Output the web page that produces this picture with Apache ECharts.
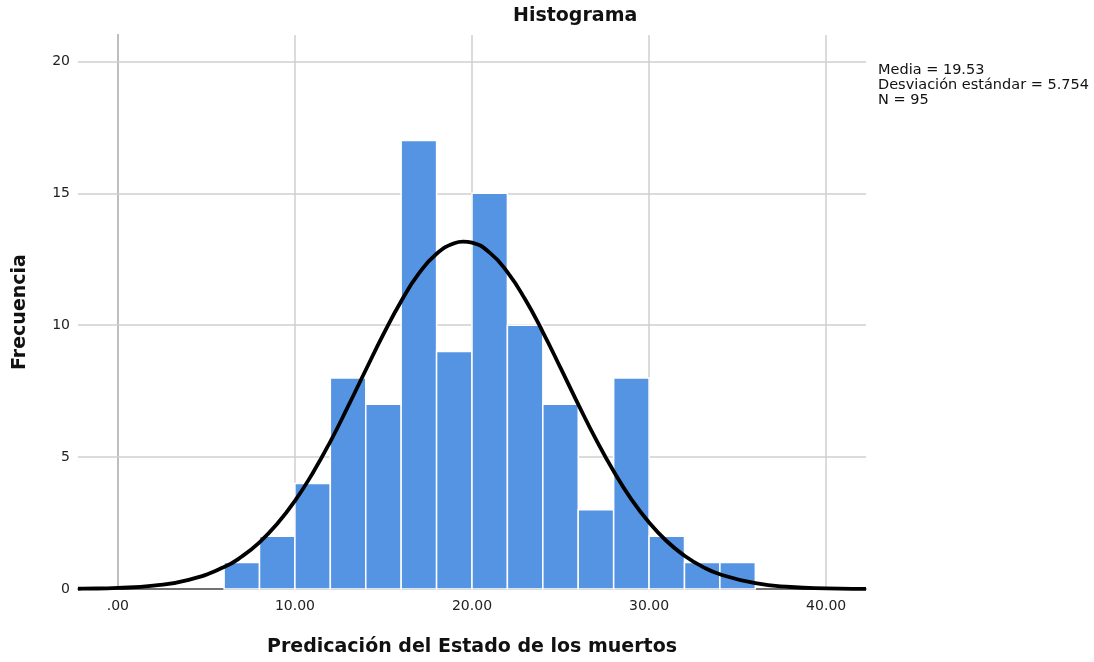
<!DOCTYPE html>
<html>
<head>
<meta charset="utf-8">
<script src="https://cdn.jsdelivr.net/npm/echarts@6/dist/echarts.min.js"></script>
<style>
  html, body { margin: 0; padding: 0; background: #fff; }
  #chart { width: 1094px; height: 662px; }
</style>
</head>
<body>
<div id="chart"></div>
<script>
const binStarts = [6, 8, 10, 12, 14, 16, 18, 20, 22, 24, 26, 28, 30, 32, 34];
const binWidth = 2;
const counts = [1, 2, 4, 8, 7, 17, 9, 15, 10, 7, 3, 8, 2, 1, 1];

// curva normal, puntos
const curveX = [-2.25, -2, 0, 2, 4, 6, 7, 8, 9, 10, 11, 12, 13, 14, 15, 16, 17, 18, 19, 19.5, 20, 21, 22, 23, 24, 25, 26, 27, 28, 29, 30, 31, 32, 33, 34, 36, 38, 40, 42, 42.25];
const curveY = [0.01, 0.012, 0.041, 0.127, 0.345, 0.83, 1.23, 1.77, 2.47, 3.34, 4.39, 5.59, 6.92, 8.30, 9.66, 10.91, 11.96, 12.71, 13.11, 13.17, 13.13, 12.75, 12.01, 10.98, 9.74, 8.38, 7.00, 5.67, 4.46, 3.40, 2.52, 1.81, 1.26, 0.85, 0.56, 0.22, 0.076, 0.024, 0.0065, 0.006];

const xTicks = [0, 10, 20, 30, 40];
const yTicks = [0, 5, 10, 15, 20];
const statLines = ['Media = 19.53', 'Desviación estándar = 5.754', 'N = 95'];

const font = 'DejaVu Sans';
const myChart = echarts.init(document.getElementById('chart'));

const barData = binStarts.map((s, i) => [s, s + binWidth, counts[i]]);
const curveData = curveX.map((x, i) => [x, curveY[i]]);

const option = {
  animation: false,
  title: {
    text: 'Histograma',
    left: 513,
    top: 7,
    padding: [0, 0, 0, 0],
    textStyle: { fontFamily: font, fontSize: 19, fontWeight: 'bold', color: '#111' }
  },
  grid: { left: 78, right: 228, top: 35, bottom: 67 },
  xAxis: {
    type: 'value',
    min: -2.25,
    max: 42.25,
    name: 'Predicación del Estado de los muertos',
    nameLocation: 'middle',
    nameGap: 49,
    nameTextStyle: { fontFamily: font, fontSize: 19, fontWeight: 'bold', color: '#111' },
    axisLine: { show: true, lineStyle: { color: '#444', width: 1.5 } },
    axisTick: { show: false },
    splitLine: { show: false },
    axisLabel: {
      customValues: xTicks,
      fontFamily: font, fontSize: 14, color: '#222', margin: 10,
      formatter: v => v === 0 ? '.00' : v.toFixed(2)
    }
  },
  yAxis: {
    type: 'value',
    min: 0,
    max: 21,
    name: 'Frecuencia',
    nameLocation: 'middle',
    nameGap: 48,
    nameTextStyle: { fontFamily: font, fontSize: 19, fontWeight: 'bold', color: '#111' },
    axisLine: { show: true, lineStyle: { color: '#666', width: 1.5 } },
    axisTick: { show: false },
    splitLine: { show: false },
    axisLabel: {
      customValues: yTicks,
      fontFamily: font, fontSize: 14, color: '#222', margin: 8
    }
  },
  graphic: statLines.map((t, i) => ({
    type: 'text',
    left: 878,
    top: 63 + i * 15,
    style: { text: t, fontFamily: font, fontSize: 14.5, fill: '#111' }
  })),
  series: [
    {
      // líneas de cuadrícula
      type: 'line',
      data: [],
      z: 1,
      markLine: {
        z: 1,
        silent: true,
        symbol: 'none',
        label: { show: false },
        lineStyle: { color: '#cfcfcf', width: 1.5, type: 'solid' },
        data: xTicks.map(v => ({ xAxis: v })).concat(yTicks.slice(1).map(v => ({ yAxis: v })))
      }
    },
    {
      type: 'custom',
      z: 2,
      data: barData,
      encode: { x: [0, 1], y: 2 },
      renderItem: (params, api) => {
        const p0 = api.coord([api.value(0), api.value(2)]);
        const p1 = api.coord([api.value(1), 0]);
        return {
          type: 'rect',
          shape: { x: p0[0], y: p0[1], width: p1[0] - p0[0], height: p1[1] - p0[1] },
          style: { fill: '#5593e3', stroke: '#ffffff', lineWidth: 1.5 }
        };
      }
    },
    {
      type: 'line',
      z: 3,
      data: curveData,
      smooth: true,
      symbol: 'none',
      lineStyle: { color: '#000', width: 3.8 }
    }
  ]
};

myChart.setOption(option);
</script>
</body>
</html>
